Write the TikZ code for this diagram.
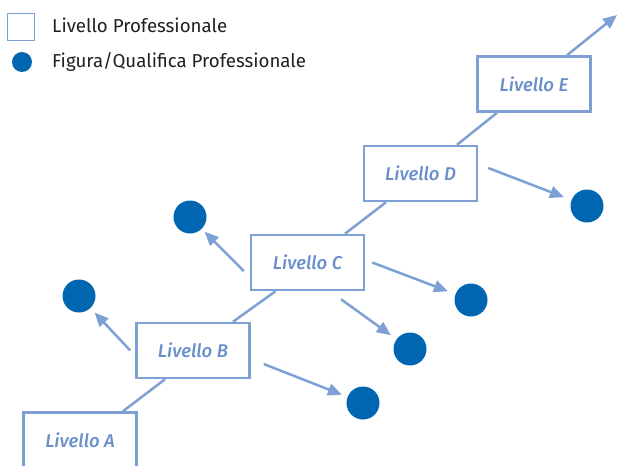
\documentclass[tikz,border=0pt]{standalone}
\usepackage{fontspec}
\setmainfont{Fira Sans}
\newfontfamily\lblfont[ItalicFont={Fira Sans Medium Italic}]{Fira Sans Medium}
\usetikzlibrary{calc,arrows.meta}
\definecolor{boxblue}{HTML}{7EA1D5}
\definecolor{lblblue}{HTML}{6A8FC9}
\definecolor{dotblue}{HTML}{0066B2}
\definecolor{txtgray}{HTML}{231F20}
\tikzset{
  lvl/.style={draw=boxblue, line width=2.5pt, minimum width=113pt, minimum height=55pt, inner sep=0pt,
    font=\lblfont\fontsize{18.5}{20}\selectfont\itshape, text=lblblue},
  dot/.style={circle, fill=dotblue, inner sep=0pt, minimum size=33pt},
  link/.style={draw=boxblue, line width=2.5pt},
  arr/.style={draw=boxblue, line width=2.5pt, -{Triangle[length=14pt,width=12pt]}, shorten >=6pt},
  legtxt/.style={anchor=base west, inner sep=0pt, text=txtgray, font=\fontsize{18.7}{21}\selectfont}
}
\begin{document}
\begin{tikzpicture}[x=1pt,y=-1pt]
\useasboundingbox (0,0) rectangle (617,465);
% legend
\node[draw=boxblue, line width=1.3pt, minimum size=27pt, inner sep=0pt] (legbox) at (21,27) {};
\node[dot, minimum size=20pt] (legdot) at (22,62) {};
\node[legtxt] (legt1) at (52,33) {Livello Professionale};
\node[legtxt] (legt2) at (52,68) {Figura/Qualifica Professionale};
% levels
\node[lvl] (A) at (80,440) {Livello A};
\node[lvl] (B) at (193,350.5) {Livello B};
\node[lvl] (C) at (307.5,262.5) {Livello C};
\node[lvl] (D) at (420.5,173.5) {Livello D};
\node[lvl] (E) at (534,84) {Livello E};
% dots
\node[dot] (c1) at (79,296) {};
\node[dot] (c2) at (363,403) {};
\node[dot] (c3) at (190,217) {};
\node[dot] (c4) at (471,300) {};
\node[dot] (c5) at (410,349) {};
\node[dot] (c6) at (587,206) {};
% chain
\draw[link] ($(A.north)+(43,0)$) -- ($(B.south)+(-28,0)$);
\draw[link] ($(B.north)+(40,0)$) -- ($(C.south)+(-32,0)$);
\draw[link] ($(C.north)+(37.5,0)$) -- ($(D.south)+(-34.5,0)$);
\draw[link] ($(D.north)+(36.5,0)$) -- ($(E.south)+(-37,0)$);
\coordinate (top) at (617,15);
\draw[arr, shorten >=0pt] ($(E.north)+(33,0)$) -- (top);
% arrows to dots
\draw[arr] ($(B.west)+(-5,0)$) -- (c1);
\draw[arr] ($(B.east)+(13,13.5)$) -- (c2);
\draw[arr, shorten >=4pt] ($(C.west)+(-6,8.5)$) -- (c3);
\draw[arr, shorten >=8pt] ($(C.east)+(7,0)$) -- (c4);
\draw[arr, shorten >=7pt] ($(C.south)+(33.5,8)$) -- (c5);
\draw[arr, shorten >=8pt] ($(D.east)+(10,-5.5)$) -- (c6);
\end{tikzpicture}
\end{document}
